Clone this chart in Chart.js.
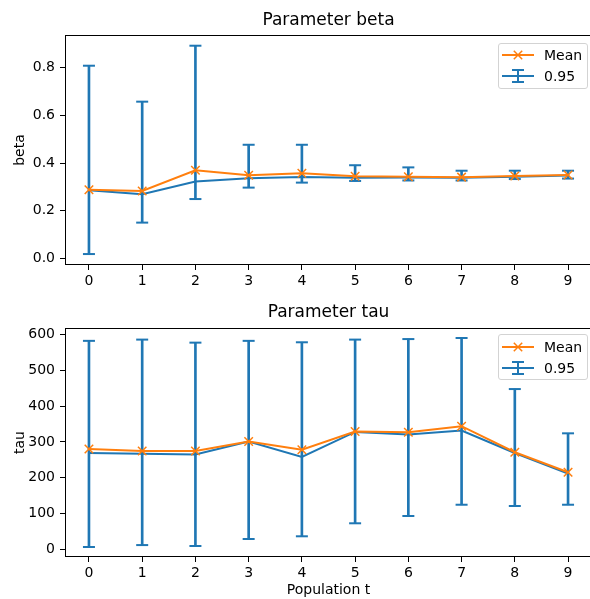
<!DOCTYPE html>
<html><head><meta charset="utf-8">
<script src="https://cdn.jsdelivr.net/npm/chart.js@4.4.0/dist/chart.umd.min.js"></script>
<style>
html,body{margin:0;padding:0;background:#fff;overflow:hidden;}
#wrap{position:relative;width:590px;height:599px;overflow:hidden;font-family:"DejaVu Sans",sans-serif;}
canvas{position:absolute;left:0;}
.legend{position:absolute;left:498px;width:90px;height:46px;box-sizing:border-box;border:1px solid #d3d3d3;border-radius:3px;background:rgba(255,255,255,0.8);font-size:14px;color:#000;}
.row{position:absolute;left:0;height:20px;width:100%;}
.row svg{position:absolute;left:3px;top:0;}
.row span{position:absolute;left:45px;top:1px;line-height:18px;}
</style></head>
<body>
<div id="wrap">
  <canvas id="c1" width="600" height="300" style="top:0"></canvas>
  <canvas id="c2" width="600" height="299" style="top:300px"></canvas>
  <div class="legend" style="top:43px">
    <div class="row" style="top:1px"><svg width="32" height="20"><line x1="0" y1="10" x2="32" y2="10" stroke="#ff7f0e" stroke-width="2"/><line x1="11.8" y1="5.8" x2="20.2" y2="14.2" stroke="#ff7f0e" stroke-width="1.5"/><line x1="11.8" y1="14.2" x2="20.2" y2="5.8" stroke="#ff7f0e" stroke-width="1.5"/></svg><span>Mean</span></div>
    <div class="row" style="top:22px"><svg width="32" height="20"><line x1="0" y1="10" x2="32" y2="10" stroke="#1f77b4" stroke-width="2"/><line x1="16" y1="4" x2="16" y2="16" stroke="#1f77b4" stroke-width="2"/><line x1="10" y1="4" x2="22" y2="4" stroke="#1f77b4" stroke-width="2"/><line x1="10" y1="16" x2="22" y2="16" stroke="#1f77b4" stroke-width="2"/></svg><span>0.95</span></div>
  </div>
  <div class="legend" style="top:334px">
    <div class="row" style="top:2px"><svg width="32" height="20"><line x1="0" y1="10" x2="32" y2="10" stroke="#ff7f0e" stroke-width="2"/><line x1="11.8" y1="5.8" x2="20.2" y2="14.2" stroke="#ff7f0e" stroke-width="1.5"/><line x1="11.8" y1="14.2" x2="20.2" y2="5.8" stroke="#ff7f0e" stroke-width="1.5"/></svg><span>Mean</span></div>
    <div class="row" style="top:23px"><svg width="32" height="20"><line x1="0" y1="10" x2="32" y2="10" stroke="#1f77b4" stroke-width="2"/><line x1="16" y1="4" x2="16" y2="16" stroke="#1f77b4" stroke-width="2"/><line x1="10" y1="4" x2="22" y2="4" stroke="#1f77b4" stroke-width="2"/><line x1="10" y1="16" x2="22" y2="16" stroke="#1f77b4" stroke-width="2"/></svg><span>0.95</span></div>
  </div>
</div>
<script>
const populations = [0, 1, 2, 3, 4, 5, 6, 7, 8, 9];

const betaMean   = [0.288, 0.283, 0.370, 0.349, 0.357, 0.345, 0.343, 0.341, 0.346, 0.350];
const betaMedian = [0.286, 0.269, 0.323, 0.336, 0.342, 0.338, 0.339, 0.338, 0.343, 0.348];
const betaLow    = [0.018, 0.150, 0.249, 0.297, 0.318, 0.325, 0.327, 0.327, 0.333, 0.335];
const betaHigh   = [0.809, 0.658, 0.893, 0.477, 0.477, 0.391, 0.382, 0.368, 0.368, 0.368];

const tauMean   = [280, 274.5, 274.5, 301, 278, 329, 327, 344, 271, 215];
const tauMedian = [269, 267, 265, 301, 258, 328, 321, 332, 269, 211];
const tauLow    = [5.6, 11, 8.4, 28, 35.6, 72, 92.5, 124, 120.5, 124];
const tauHigh   = [583, 586.5, 578, 583, 579, 586.5, 588, 591, 448, 324];

const BLUE = '#1f77b4', ORANGE = '#ff7f0e';
const FONT = 'DejaVu Sans';

const framePlugin = {
  id: 'frame',
  afterDraw(chart) {
    const ca = chart.chartArea, ctx = chart.ctx;
    ctx.save();
    ctx.strokeStyle = '#000';
    ctx.lineWidth = 1;
    ctx.strokeRect(Math.round(ca.left) + 0.5, Math.round(ca.top) + 0.5,
                   Math.round(ca.right - ca.left) - 1, Math.round(ca.bottom - ca.top) - 1);
    ctx.restore();
  }
};

function pts(vals) { return populations.map((x, i) => ({x: x, y: vals[i]})); }

function makeChart(id, cfg) {
  const datasets = [
    { type: 'line', label: 'Mean', data: pts(cfg.mean), borderColor: ORANGE, backgroundColor: ORANGE,
      borderWidth: 2, pointStyle: 'crossRot', pointRadius: 6, pointBorderWidth: 1.5,
      pointBorderColor: ORANGE, fill: false, tension: 0, order: 0 },
    { type: 'line', label: 'median', data: pts(cfg.median), borderColor: BLUE, backgroundColor: BLUE,
      borderWidth: 2, pointRadius: 0, fill: false, tension: 0, order: 1 },
    { type: 'bar', label: '0.95', data: populations.map((x, i) => ({x: x, y: [cfg.low[i], cfg.high[i]]})),
      backgroundColor: BLUE, borderWidth: 0, barThickness: 2, order: 2 },
    { type: 'line', label: 'lo', data: pts(cfg.low), showLine: false, pointStyle: 'line',
      pointRadius: 6, pointBorderWidth: 2, pointBorderColor: BLUE, borderColor: BLUE, order: 2 },
    { type: 'line', label: 'hi', data: pts(cfg.high), showLine: false, pointStyle: 'line',
      pointRadius: 6, pointBorderWidth: 2, pointBorderColor: BLUE, borderColor: BLUE, order: 2 }
  ];
  const tickFont = {family: FONT, size: 14};
  return new Chart(document.getElementById(id), {
    type: 'line',
    data: { datasets },
    plugins: [framePlugin],
    options: {
      responsive: false,
      animation: false,
      layout: { padding: { left: 0, right: 3, top: 0, bottom: 0 } },
      plugins: {
        legend: { display: false },
        tooltip: { enabled: false },
        title: { display: true, fullSize: false, text: cfg.title, color: '#000',
                 font: {family: FONT, size: 17, weight: 'normal'},
                 padding: cfg.titlePad }
      },
      scales: {
        x: {
          type: 'linear', min: -0.45, max: 9.45, offset: false,
          ticks: { stepSize: 1, includeBounds: false, font: tickFont, color: '#000', padding: 3, maxRotation: 0 },
          grid: { drawOnChartArea: false, offset: false, color: '#000', tickLength: 5, tickWidth: 1 },
          border: { display: false },
          title: { display: !!cfg.xTitle, text: cfg.xTitle || '', color: '#000',
                   font: {family: FONT, size: 14}, padding: {top: 0, bottom: 0} },
          afterFit: s => { s.height = cfg.xHeight; }
        },
        y: {
          min: cfg.ymin, max: cfg.ymax,
          ticks: { stepSize: cfg.step, includeBounds: false, font: tickFont, color: '#000', padding: 5,
                   callback: cfg.fmt },
          grid: { drawOnChartArea: false, color: '#000', tickLength: 5, tickWidth: 1 },
          border: { display: false },
          title: { display: true, text: cfg.yTitle, color: '#000',
                   font: {family: FONT, size: 14}, padding: {top: 11.6, bottom: 0} },
          afterFit: s => { s.width = 65; }
        }
      }
    }
  });
}

makeChart('c1', {
  title: 'Parameter beta', titlePad: {top: 10.8, bottom: 3.8},
  mean: betaMean, median: betaMedian, low: betaLow, high: betaHigh,
  ymin: -0.028, ymax: 0.938, step: 0.2, fmt: v => Number(v).toFixed(1),
  yTitle: 'beta', xHeight: 35
});

makeChart('c2', {
  title: 'Parameter tau', titlePad: {top: 2.8, bottom: 4.8},
  mean: tauMean, median: tauMedian, low: tauLow, high: tauHigh,
  ymin: -22.4, ymax: 619, step: 100, fmt: v => String(Math.round(v)),
  yTitle: 'tau', xTitle: 'Population t', xHeight: 42
});
</script>
</body></html>
